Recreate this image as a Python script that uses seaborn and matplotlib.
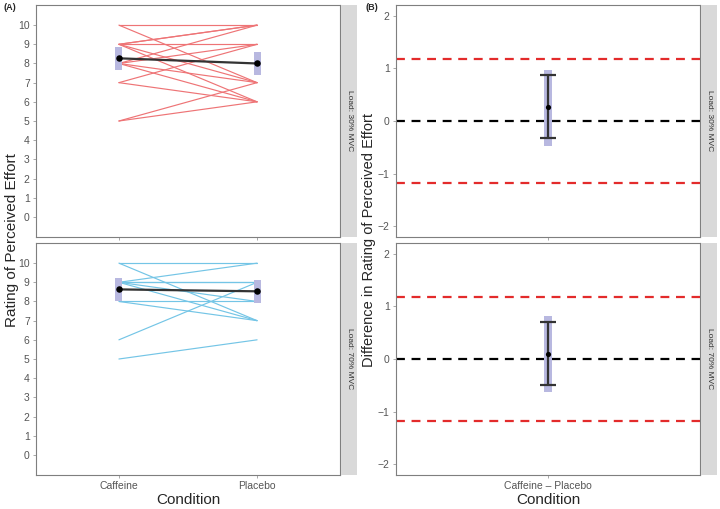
import numpy as np
import pandas as pd
import seaborn as sns
import matplotlib.pyplot as plt
from matplotlib.patches import Rectangle

# Dados individuais (cafeína, placebo) por sujeito
caff_30 = [10, 10, 9, 9, 9, 9, 9, 8, 8, 8, 8, 7, 7, 5, 5]
plac_30 = [10, 7, 10, 10, 9, 7, 6, 9, 10, 7, 6, 9, 6, 7, 6]
caff_70 = [10, 10, 9, 9, 9, 9, 9, 8, 8, 6, 5]
plac_70 = [10, 7, 10, 9, 9, 8, 7, 8, 7, 9, 6]

conditions = ["Caffeine", "Placebo"]
loads = ["Load: 30% MVC", "Load: 70% MVC"]

# Médias e intervalos (painel A)
mean_a = {"Load: 30% MVC": [8.27, 8.0], "Load: 70% MVC": [8.63, 8.53]}
band_lo_a = {"Load: 30% MVC": [7.67, 7.4], "Load: 70% MVC": [8.03, 7.93]}
band_hi_a = {"Load: 30% MVC": [8.87, 8.6], "Load: 70% MVC": [9.23, 9.13]}

# Diferenças (painel B)
diff_mean = [0.27, 0.10]
diff_ci_lo = [-0.33, -0.50]
diff_ci_hi = [0.87, 0.70]
diff_band_lo = [-0.47, -0.62]
diff_band_hi = [0.97, 0.82]
sesoi = 1.17

sns.set_theme(style="white")
plt.rcParams['font.family'] = ['Liberation Sans', 'DejaVu Sans']

fig = plt.figure(figsize=(7.2, 5.09), dpi=100)
W, H = 720, 509

def px_axes(x0, y0, x1, y1):
    return fig.add_axes([x0 / W, 1 - y1 / H, (x1 - x0) / W, (y1 - y0) / H])

line_colors = {"Load: 30% MVC": "#EE7476", "Load: 70% MVC": "#74C5E6"}
rows = [(5, 237), (243, 475)]
data_a = {"Load: 30% MVC": (caff_30, plac_30), "Load: 70% MVC": (caff_70, plac_70)}

def style_axes(ax):
    for s in ax.spines.values():
        s.set_color("#7f7f7f")
        s.set_linewidth(0.8)
    ax.tick_params(axis="both", which="both", length=2.5, width=0.6, color="#9a9a9a",
                   labelsize=7.5, labelcolor="#555555", pad=2, left=True, bottom=True)

def add_strip(x0, y0, x1, y1, label):
    sax = px_axes(x0, y0, x1, y1)
    sax.set_xticks([])
    sax.set_yticks([])
    sax.set_facecolor("#d9d9d9")
    for s in sax.spines.values():
        s.set_visible(False)
    sax.text(0.5, 0.5, label, rotation=-90, ha="center", va="center",
             fontsize=6, color="#333333", transform=sax.transAxes)

for i, load in enumerate(loads):
    y0, y1 = rows[i]
    # Painel A
    ax = px_axes(36, y0, 340, y1)
    caff, plac = data_a[load]
    n = len(caff)
    df = pd.DataFrame({
        "subject": list(range(n)) * 2,
        "x": [0] * n + [1] * n,
        "rpe": caff + plac,
    })
    sns.lineplot(data=df, x="x", y="rpe", units="subject", estimator=None,
                 color=line_colors[load], lw=0.85, ax=ax, legend=False)
    for j in range(2):
        ax.add_patch(Rectangle((j - 0.025, band_lo_a[load][j]), 0.05,
                               band_hi_a[load][j] - band_lo_a[load][j],
                               color="#b8b8e0", lw=0, zorder=3))
    ax.plot([0, 1], mean_a[load], color="#333333", lw=1.6, zorder=4)
    sns.scatterplot(x=[0, 1], y=mean_a[load], color="black", s=22, ax=ax, zorder=5,
                    edgecolor="black", linewidth=0)
    ax.set_xlim(-0.6, 1.6)
    ax.set_ylim(-1.05, 11.05)
    ax.set_yticks(range(0, 11))
    ax.set_xticks([0, 1])
    if i == 1:
        ax.set_xticklabels(conditions)
        ax.set_xlabel("Condition", fontsize=11, labelpad=1)
    else:
        ax.set_xticklabels([])
        ax.set_xlabel("")
    ax.set_ylabel("")
    style_axes(ax)
    add_strip(341, y0, 357, y1, load)

    # Painel B
    bx = px_axes(396, y0, 700, y1)
    bx.add_patch(Rectangle((-0.014, diff_band_lo[i]), 0.028,
                           diff_band_hi[i] - diff_band_lo[i],
                           color="#b8b8e0", lw=0, zorder=2))
    bx.axhline(0, color="black", lw=1.6, ls=(0, (4, 3)), zorder=1)
    bx.axhline(sesoi, color="#e32b2b", lw=1.6, ls=(0, (4, 3)), zorder=1)
    bx.axhline(-sesoi, color="#e32b2b", lw=1.6, ls=(0, (4, 3)), zorder=1)
    bx.errorbar([0], [diff_mean[i]],
                yerr=[[diff_mean[i] - diff_ci_lo[i]], [diff_ci_hi[i] - diff_mean[i]]],
                fmt="o", color="#333333", ms=0, elinewidth=1.6, capsize=6, capthick=1.6, zorder=3)
    sns.scatterplot(x=[0], y=[diff_mean[i]], color="black", s=14, ax=bx, zorder=4,
                    edgecolor="black", linewidth=0)
    bx.set_xlim(-0.6, 0.6)
    bx.set_ylim(-2.2, 2.2)
    bx.set_yticks([-2, -1, 0, 1, 2])
    bx.set_yticklabels(["\u22122", "\u22121", "0", "1", "2"])
    bx.set_xticks([0])
    if i == 1:
        bx.set_xticklabels(["Caffeine \u2013 Placebo"])
        bx.set_xlabel("Condition", fontsize=11, labelpad=1)
    else:
        bx.set_xticklabels([])
    style_axes(bx)
    add_strip(701, y0, 717, y1, load)

fig.text(12 / W, 1 - 240 / H, "Rating of Perceived Effort", rotation=90,
         ha="center", va="center", fontsize=11)
fig.text(369 / W, 1 - 240 / H, "Difference in Rating of Perceived Effort", rotation=90,
         ha="center", va="center", fontsize=10.5)
fig.text(4 / W, 1 - 7 / H, "(A)", fontsize=6.5, fontweight="bold", va="center")
fig.text(366 / W, 1 - 7 / H, "(B)", fontsize=6.5, fontweight="bold", va="center")

fig.savefig("out.png", dpi=100)
